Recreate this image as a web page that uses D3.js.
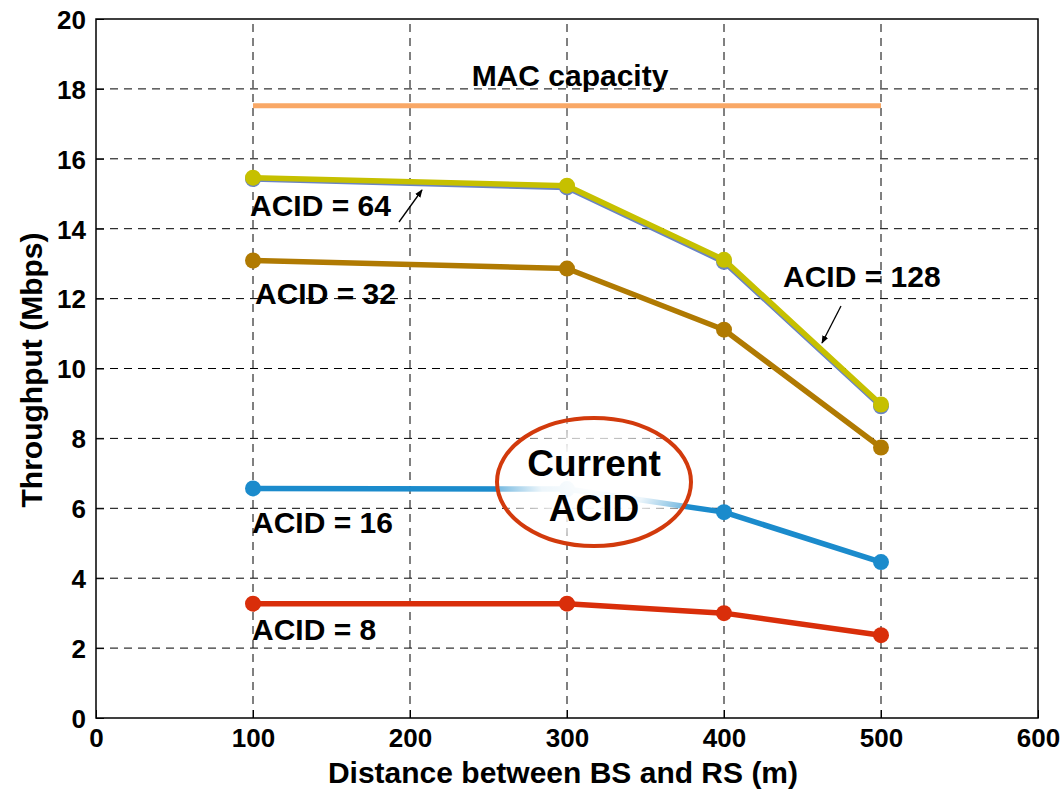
<!DOCTYPE html>
<html>
<head>
<meta charset="utf-8">
<script src="https://cdn.jsdelivr.net/npm/d3@7"></script>
<style>
  body { margin: 0; background: #fff; }
  svg text { font-family: Arial, "Liberation Sans", sans-serif; font-weight: bold; }
</style>
</head>
<body>
<svg id="chart" width="1062" height="789"></svg>
<script>
// distances (m)
const distances = [100, 300, 400, 500];
// throughput per ACID setting (Mbps)
const acid8 = [3.27, 3.27, 3.0, 2.37];
const acid16 = [6.57, 6.55, 5.89, 4.46];
const acid32 = [13.09, 12.86, 11.11, 7.74];
const acid64 = [15.46, 15.23, 13.11, 8.97];
const acid128 = [15.42, 15.18, 13.05, 8.92];
const macCapacity = [17.52, 17.52];
const macX = [100, 500];

const xTicks = [0, 100, 200, 300, 400, 500, 600];
const yTicks = [0, 2, 4, 6, 8, 10, 12, 14, 16, 18, 20];

const margin = {left: 96, right: 24, top: 19, bottom: 71};
const W = 1062, H = 789;

const svg = d3.select('#chart');

const x = d3.scaleLinear().domain([0, 600]).range([margin.left, W - margin.right]);
const y = d3.scaleLinear().domain([0, 20]).range([H - margin.bottom, margin.top]);

// grid
svg.append('g').selectAll('line').data(xTicks.slice(1, -1)).enter().append('line')
  .attr('x1', d => x(d)).attr('x2', d => x(d))
  .attr('y1', y(0)).attr('y2', y(20))
  .attr('stroke', '#000').attr('stroke-width', 1).attr('stroke-dasharray', '8,6');
svg.append('g').selectAll('line').data(yTicks.slice(1, -1)).enter().append('line')
  .attr('x1', x(0)).attr('x2', x(600))
  .attr('y1', d => y(d)).attr('y2', d => y(d))
  .attr('stroke', '#000').attr('stroke-width', 1).attr('stroke-dasharray', '8,6');

// axes
const xAxis = d3.axisBottom(x).tickValues(xTicks).tickSizeInner(-8).tickSizeOuter(0).tickPadding(10);
const yAxis = d3.axisLeft(y).tickValues(yTicks).tickSizeInner(-8).tickSizeOuter(0).tickPadding(10);
const gx = svg.append('g').attr('transform', `translate(0,${y(0)})`).call(xAxis);
const gy = svg.append('g').attr('transform', `translate(${x(0)},0)`).call(yAxis);
[gx, gy].forEach(g => {
  g.select('.domain').remove();
  g.selectAll('text').attr('font-size', 26).attr('fill', '#000')
    .attr('font-family', 'Arial, "Liberation Sans", sans-serif').attr('font-weight', 'bold');
  g.selectAll('line').attr('stroke', '#000');
});
gx.selectAll('text').attr('dy', '0.72em');
gy.selectAll('text').attr('dy', '0.36em');

// box
svg.append('rect').attr('x', x(0)).attr('y', y(20))
  .attr('width', x(600) - x(0)).attr('height', y(0) - y(20))
  .attr('fill', 'none').attr('stroke', '#000').attr('stroke-width', 1.5);

const line = d3.line().x((d, i) => x(distances[i])).y(d => y(d));

// MAC capacity
svg.append('path')
  .attr('d', d3.line().x((d, i) => x(macX[i])).y(d => y(d))(macCapacity))
  .attr('fill', 'none').attr('stroke', '#f9a866').attr('stroke-width', 5);

const series = [
  {vals: acid8, color: '#d92e0a'},
  {vals: acid16, color: '#1b8bcc'},
  {vals: acid32, color: '#b07a02'},
  {vals: acid128, color: '#6a84c4'},
  {vals: acid64, color: '#c6c000'}
];

series.forEach(s => {
  svg.append('path').attr('d', line(s.vals))
    .attr('fill', 'none').attr('stroke', s.color).attr('stroke-width', 5.5)
    .attr('stroke-linejoin', 'round');
  svg.append('g').selectAll('circle').data(s.vals).enter().append('circle')
    .attr('cx', (d, i) => x(distances[i])).attr('cy', d => y(d))
    .attr('r', 8).attr('fill', s.color);
});

// Current ACID ellipse
const defs = svg.append('defs');
const grad = defs.append('radialGradient').attr('id', 'ellGrad');
grad.append('stop').attr('offset', '0%').attr('stop-color', '#fff').attr('stop-opacity', 1);
grad.append('stop').attr('offset', '55%').attr('stop-color', '#fff').attr('stop-opacity', 0.92);
grad.append('stop').attr('offset', '100%').attr('stop-color', '#fff').attr('stop-opacity', 0.4);
svg.append('ellipse').attr('cx', 594).attr('cy', 482).attr('rx', 97).attr('ry', 64)
  .attr('fill', 'url(#ellGrad)').attr('stroke', '#d23a0c').attr('stroke-width', 4);
svg.append('text').attr('x', 594).attr('y', 476).attr('text-anchor', 'middle')
  .attr('font-size', 37).text('Current');
svg.append('text').attr('x', 594).attr('y', 521).attr('text-anchor', 'middle')
  .attr('font-size', 37).text('ACID');

// labels
const labels = [
  {t: 'MAC capacity', x: 570, y: 86, a: 'middle'},
  {t: 'ACID = 64', x: 250, y: 216, a: 'start'},
  {t: 'ACID = 32', x: 255, y: 304, a: 'start'},
  {t: 'ACID = 128', x: 783, y: 287, a: 'start'},
  {t: 'ACID = 16', x: 252, y: 533, a: 'start'},
  {t: 'ACID = 8', x: 252, y: 640, a: 'start'}
];
svg.append('g').selectAll('text').data(labels).enter().append('text')
  .attr('x', d => d.x).attr('y', d => d.y).attr('text-anchor', d => d.a)
  .attr('font-size', 30).attr('fill', '#000').text(d => d.t);

// arrows
defs.append('marker').attr('id', 'arr').attr('viewBox', '0 0 10 10')
  .attr('refX', 9).attr('refY', 5).attr('markerWidth', 8).attr('markerHeight', 8)
  .attr('orient', 'auto').attr('markerUnits', 'userSpaceOnUse')
  .append('path').attr('d', 'M0,1 L10,5 L0,9 Z').attr('fill', '#000');
[[399, 222, 422, 190], [841, 306, 822, 343]].forEach(a => {
  svg.append('line').attr('x1', a[0]).attr('y1', a[1]).attr('x2', a[2]).attr('y2', a[3])
    .attr('stroke', '#000').attr('stroke-width', 1.3).attr('marker-end', 'url(#arr)');
});

// axis titles
svg.append('text').attr('x', 563).attr('y', 783).attr('text-anchor', 'middle')
  .attr('font-size', 30).text('Distance between BS and RS (m)');
svg.append('text').attr('transform', 'translate(42,370) rotate(-90)').attr('text-anchor', 'middle')
  .attr('font-size', 30).text('Throughput (Mbps)');
</script>
</body>
</html>
